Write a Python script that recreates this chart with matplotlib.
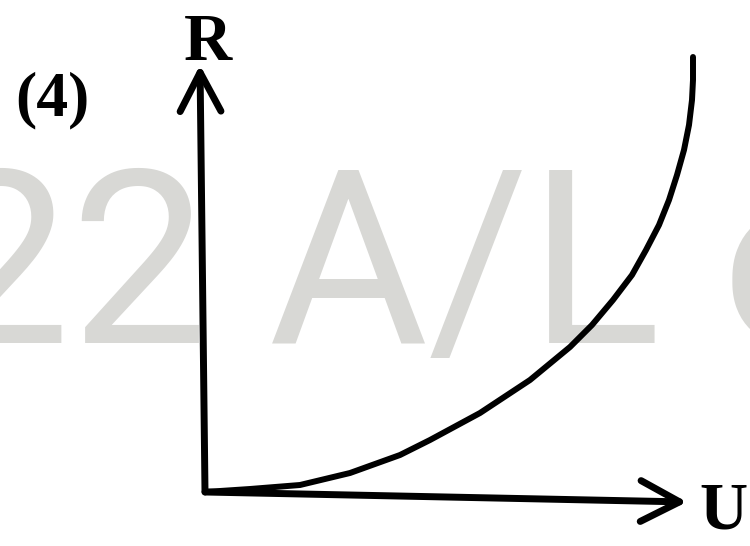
import matplotlib.pyplot as plt

# curve, in the graph's own units (origin = axes corner)
u_vals = [0, 45, 95, 145, 195, 225, 275, 325, 365, 387, 408, 427,
          441, 454, 464, 472, 479, 484, 487, 488, 488]
r_vals = [0, 3, 7, 19, 37, 52, 79, 112, 145, 167, 192, 217,
          242, 267, 292, 317, 342, 367, 392, 412, 435]

x_label = 'U'
y_label = 'R'
option_label = '(4)'
watermark = '22 A/L e'

fig = plt.figure(figsize=(7.5, 5.46), dpi=100)
ax = fig.add_axes([0, 0, 1, 1])
ax.set_xlim(-205, 545)
ax.set_ylim(-54, 492)
ax.axis('off')

# faded watermark behind the graph
ax.text(-272, 149, watermark, fontsize=176, family=['Roboto', 'DejaVu Sans'],
        color='#d8d8d5', ha='left', va='baseline', zorder=0)

# axes with open arrow heads
arrow = dict(arrowstyle='->,head_length=2.0,head_width=1.05', lw=5, color='black',
             mutation_scale=14, shrinkA=0, shrinkB=0, capstyle='round', joinstyle='round')
ax.annotate('', xy=(-5, 427), xytext=(0, 0), arrowprops=arrow, zorder=3)
ax.annotate('', xy=(482, -10), xytext=(0, 0), arrowprops=arrow, zorder=3)

ax.plot(u_vals, r_vals, color='black', lw=4.3, solid_capstyle='round',
        solid_joinstyle='round', zorder=2)

serif = ['Liberation Serif', 'DejaVu Serif']
ax.text(3, 449, y_label, fontsize=48, family=serif, fontweight='bold', ha='center', va='center')
ax.text(518, -20, x_label, fontsize=48, family=serif, fontweight='bold', ha='center', va='center')
ax.text(-153, 392, option_label, fontsize=46, family=serif, fontweight='bold', ha='center', va='center')

fig.savefig('out.png', dpi=100)
